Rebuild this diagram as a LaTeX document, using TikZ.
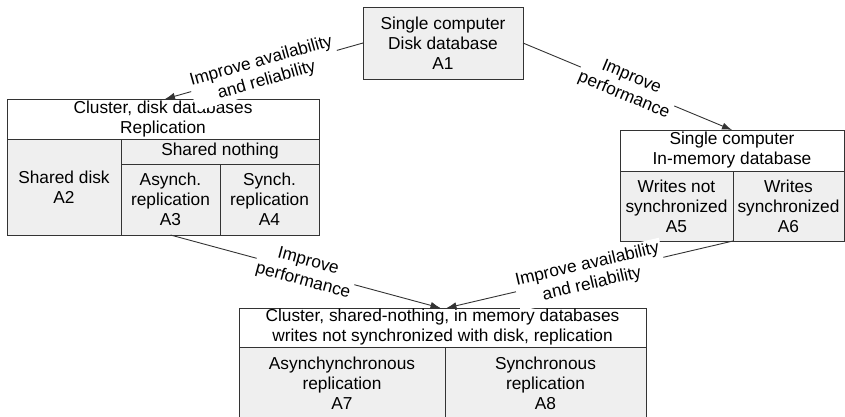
\documentclass[tikz,border=0pt]{standalone}
\usepackage{fontspec}
\setmainfont{Liberation Sans}
\usetikzlibrary{arrows.meta}
\definecolor{cellgray}{HTML}{EFEFEF}
\definecolor{edgegray}{HTML}{333333}
\begin{document}
\begin{tikzpicture}[x=1pt,y=-1pt,
  txt/.style={font=\fontsize{17.3}{20}\selectfont},
  cell/.style={txt, draw=edgegray, line width=0.9pt, fill=cellgray, align=center,
    inner sep=0pt, outer sep=0pt},
  head/.style={cell, fill=white},
  flow/.style={draw=edgegray, line width=0.9pt, -{Latex[length=10pt,width=7pt]}},
  tag/.style={txt, font=\fontsize{17.3}{20}\selectfont, fill=white, align=center,
    inner sep=2pt, midway, sloped}]
\useasboundingbox (0,0) rectangle (845,417);

% single computer, disk database
\node[cell, minimum width=160, minimum height=72] (a1) at (443,43)
  {Single computer\\Disk database\\A1};

% cluster of disk databases
\node[head, minimum width=312, minimum height=40] (lhead) at (163,119)
  {Cluster, disk databases\\Replication};
\node[cell, minimum width=198, minimum height=25] (lnothing) at (220,151.5)
  {Shared nothing};
\node[cell, minimum width=114, minimum height=96] (a2) at (64,187)
  {Shared disk\\A2};
\node[cell, minimum width=99, minimum height=71] (a3) at (170.5,199.5)
  {Asynch.\\replication\\A3};
\node[cell, minimum width=99, minimum height=71] (a4) at (269.5,199.5)
  {Synch.\\replication\\A4};

% single computer, in-memory database
\node[head, minimum width=224, minimum height=41] (rhead) at (732,150.5)
  {Single computer\\In-memory database};
\node[cell, minimum width=113, minimum height=70] (a5) at (676.5,206)
  {Writes not\\synchronized\\A5};
\node[cell, minimum width=111, minimum height=70] (a6) at (788.5,206)
  {Writes\\synchronized\\A6};

% cluster of in-memory databases
\node[head, minimum width=407, minimum height=39] (bhead) at (442.5,327.5)
  {Cluster, shared-nothing, in memory databases\\writes not synchronized with disk, replication};
\node[cell, minimum width=206, minimum height=72] (a7) at (342,383)
  {Asynchynchronous\\replication\\A7};
\node[cell, minimum width=201, minimum height=72] (a8) at (545.5,383)
  {Synchronous\\replication\\A8};

% transitions
\draw[flow] (a1.west) -- ([xshift=2]lhead.north)
  node[tag] {Improve availability\\and reliability};
\draw[flow] (a1.east) -- (rhead.north)
  node[tag] {Improve\\performance};
\draw[flow] (a3.south) -- ([xshift=-2]bhead.north)
  node[tag] {Improve\\performance};
\draw[flow] (a5.south east) -- ([xshift=4]bhead.north)
  node[tag] {Improve availability\\and reliability};
\end{tikzpicture}
\end{document}
